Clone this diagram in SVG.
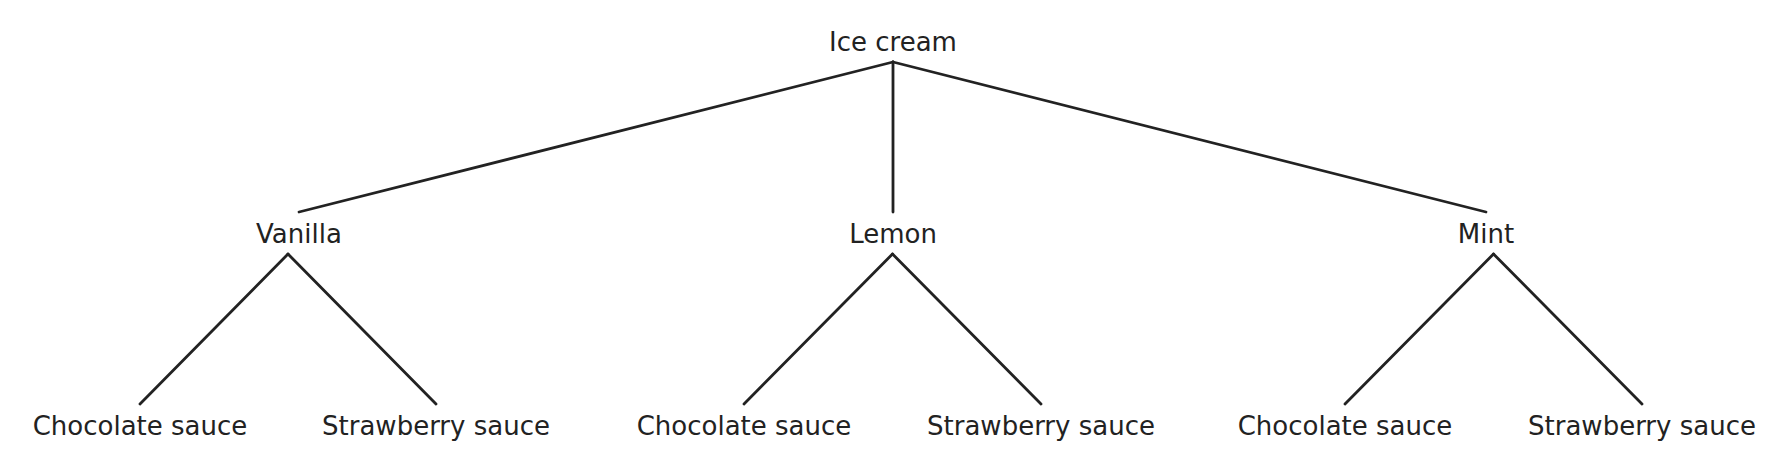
<svg xmlns="http://www.w3.org/2000/svg" width="1790" height="468" viewBox="0 0 1790 468">
<style>
.lbl{font-family:"DejaVu Sans","Liberation Sans",sans-serif;font-size:26px;fill:#222222;text-anchor:middle}
.edge{stroke:#222222;stroke-width:2.8;fill:none;stroke-linecap:round}
</style>
<rect width="1790" height="468" fill="#ffffff"/>
<g id="connectors">
<line class="edge" x1="893" y1="62" x2="299" y2="212"/>
<line class="edge" x1="893" y1="62" x2="893" y2="212"/>
<line class="edge" x1="893" y1="62" x2="1486" y2="212"/>
<line class="edge" x1="288" y1="254" x2="140" y2="404"/>
<line class="edge" x1="288" y1="254" x2="436" y2="404"/>
<line class="edge" x1="892.5" y1="254" x2="744" y2="404"/>
<line class="edge" x1="892.5" y1="254" x2="1041" y2="404"/>
<line class="edge" x1="1493.5" y1="254" x2="1345" y2="404"/>
<line class="edge" x1="1493.5" y1="254" x2="1642" y2="404"/>
</g>
<g id="root"><text class="lbl" x="893" y="50.5">Ice cream</text></g>
<g id="vanilla"><text class="lbl" x="299" y="242.5">Vanilla</text></g>
<g id="lemon"><text class="lbl" x="893" y="242.5">Lemon</text></g>
<g id="mint"><text class="lbl" x="1486" y="242.5">Mint</text></g>
<g id="vanilla-choc"><text class="lbl" x="140" y="434.5">Chocolate sauce</text></g>
<g id="vanilla-straw"><text class="lbl" x="436" y="434.5">Strawberry sauce</text></g>
<g id="lemon-choc"><text class="lbl" x="744" y="434.5">Chocolate sauce</text></g>
<g id="lemon-straw"><text class="lbl" x="1041" y="434.5">Strawberry sauce</text></g>
<g id="mint-choc"><text class="lbl" x="1345" y="434.5">Chocolate sauce</text></g>
<g id="mint-straw"><text class="lbl" x="1642" y="434.5">Strawberry sauce</text></g>
</svg>
